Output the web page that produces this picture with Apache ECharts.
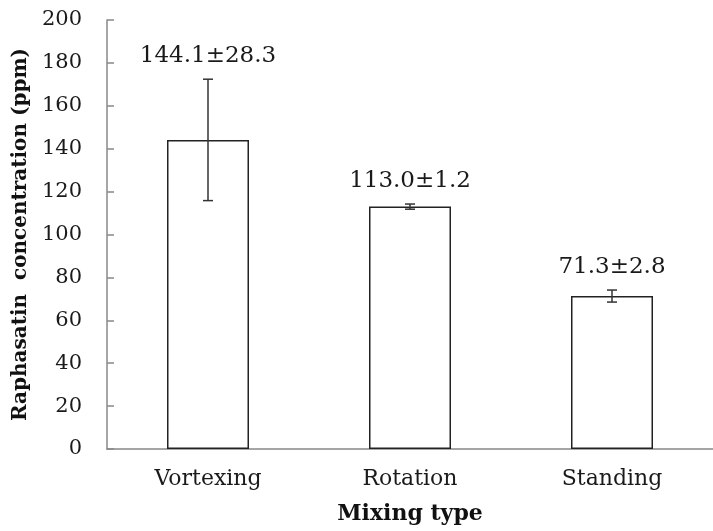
<!DOCTYPE html>
<html>
<head>
<meta charset="utf-8">
<script src="https://cdn.jsdelivr.net/npm/echarts@6/dist/echarts.min.js"></script>
<style>html,body{margin:0;padding:0;background:#fff;}#c{width:713px;height:531px;}</style>
</head>
<body>
<div id="c"></div>
<script>
var categories = ['Vortexing', 'Rotation', 'Standing'];
var means = [144.1, 113.0, 71.3];
var sds = [28.3, 1.2, 2.8];
var yTicks = { min: 0, max: 200, interval: 20 };

var chart = echarts.init(document.getElementById('c'));
var errData = categories.map(function (c, i) { return [i, means[i] - sds[i], means[i] + sds[i], means[i], sds[i]]; });
var FONT = 'DejaVu Serif';
chart.setOption({
  animation: false,
  backgroundColor: '#fff',
  grid: { left: 107, right: -6, top: 20, bottom: 82, containLabel: false },
  xAxis: {
    type: 'category',
    data: categories,
    axisLine: { lineStyle: { color: '#888', width: 1.5 } },
    axisTick: { show: false },
    axisLabel: { fontFamily: FONT, fontSize: 22, color: '#1a1a1a', margin: 19 },
    name: 'Mixing type',
    nameLocation: 'middle',
    nameGap: 54,
    nameTextStyle: { fontFamily: FONT, fontWeight: 'bold', fontSize: 22, color: '#111' }
  },
  yAxis: {
    type: 'value',
    min: yTicks.min, max: yTicks.max, interval: yTicks.interval,
    axisLine: { show: true, lineStyle: { color: '#888', width: 1.5 } },
    axisTick: { show: true, inside: true, length: 7, lineStyle: { color: '#888', width: 1.5 } },
    splitLine: { show: false },
    axisLabel: { fontFamily: FONT, fontSize: 21, color: '#1a1a1a', margin: 25 },
    name: 'Raphasatin  concentration (ppm)',
    nameLocation: 'middle',
    nameGap: 76,
    nameTextStyle: { fontFamily: FONT, fontWeight: 'bold', fontSize: 20, color: '#111' }
  },
  series: [
    {
      type: 'bar',
      data: means,
      barWidth: 82,
      itemStyle: { color: '#fff', borderColor: '#222', borderWidth: 1.5 }
    },
    {
      type: 'custom',
      data: errData,
      z: 5,
      renderItem: function (params, api) {
        var x = api.value(0);
        var lo = api.coord([x, api.value(1)]);
        var hi = api.coord([x, api.value(2)]);
        var hw = 5;
        var st = { stroke: '#333', lineWidth: 1.5 };
        var label = api.value(3).toFixed(1) + '\u00b1' + api.value(4).toFixed(1);
        return {
          type: 'group',
          children: [
            { type: 'line', shape: { x1: lo[0], y1: lo[1], x2: hi[0], y2: hi[1] }, style: st },
            { type: 'line', shape: { x1: lo[0] - hw, y1: lo[1], x2: lo[0] + hw, y2: lo[1] }, style: st },
            { type: 'line', shape: { x1: hi[0] - hw, y1: hi[1], x2: hi[0] + hw, y2: hi[1] }, style: st },
            { type: 'text', style: { x: hi[0], y: hi[1] - 12, text: label, fill: '#1a1a1a', font: '23px "DejaVu Serif"', textAlign: 'center', textVerticalAlign: 'bottom' } }
          ]
        };
      }
    }
  ]
});
</script>
</body>
</html>
